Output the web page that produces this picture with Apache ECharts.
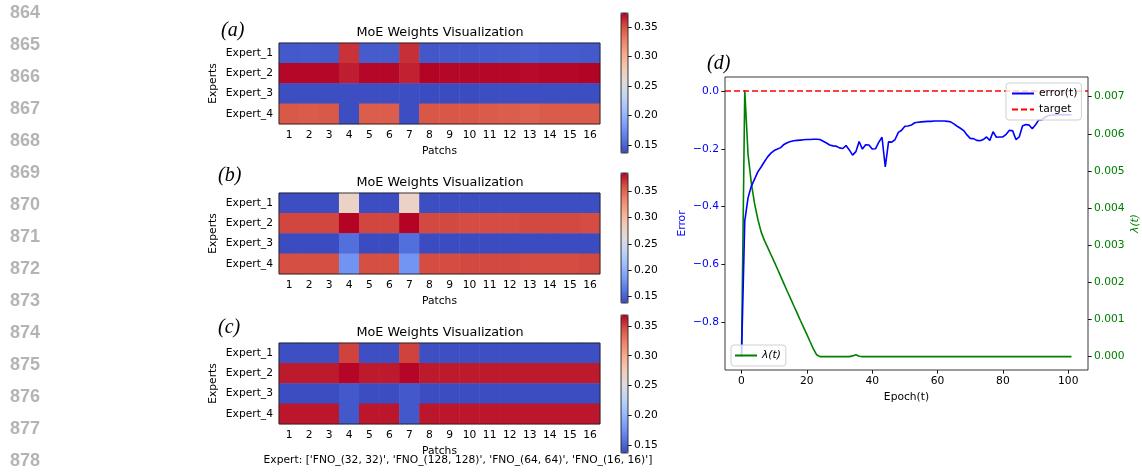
<!DOCTYPE html>
<html>
<head>
<meta charset="utf-8">
<script src="https://cdn.jsdelivr.net/npm/echarts@6.0.0/dist/echarts.min.js"></script>
<style>
  html, body { margin: 0; padding: 0; background: #fff; }
  #chart { width: 1142px; height: 473px; }
</style>
</head>
<body>
<div id="chart"></div>
<script>
// heatmap categories
const patches = ['1', '2', '3', '4', '5', '6', '7', '8', '9', '10', '11', '12', '13', '14', '15', '16'];
const experts = ['Expert_1', 'Expert_2', 'Expert_3', 'Expert_4'];

// (a) weights, one row per expert
const weightsA = [
  [0.143, 0.144, 0.143, 0.360, 0.145, 0.145, 0.361, 0.142, 0.143, 0.143, 0.144, 0.145, 0.146, 0.144, 0.144, 0.143],
  [0.373, 0.373, 0.373, 0.366, 0.373, 0.373, 0.365, 0.374, 0.373, 0.373, 0.373, 0.373, 0.372, 0.373, 0.373, 0.374],
  [0.137, 0.137, 0.137, 0.137, 0.137, 0.137, 0.137, 0.136, 0.136, 0.136, 0.137, 0.137, 0.137, 0.137, 0.137, 0.137],
  [0.347, 0.346, 0.347, 0.137, 0.345, 0.345, 0.137, 0.348, 0.348, 0.348, 0.346, 0.345, 0.343, 0.346, 0.346, 0.346]
];
// (b)
const weightsB = [
  [0.138, 0.138, 0.138, 0.276, 0.138, 0.138, 0.276, 0.138, 0.138, 0.138, 0.138, 0.138, 0.138, 0.138, 0.138, 0.138],
  [0.364, 0.364, 0.364, 0.385, 0.364, 0.364, 0.385, 0.363, 0.363, 0.362, 0.362, 0.362, 0.363, 0.363, 0.363, 0.362],
  [0.137, 0.137, 0.137, 0.157, 0.137, 0.137, 0.157, 0.137, 0.137, 0.137, 0.137, 0.137, 0.137, 0.137, 0.137, 0.137],
  [0.361, 0.361, 0.361, 0.179, 0.361, 0.361, 0.180, 0.362, 0.362, 0.363, 0.363, 0.363, 0.362, 0.362, 0.362, 0.363]
];
// (c)
const weightsC = [
  [0.138, 0.138, 0.138, 0.350, 0.138, 0.138, 0.350, 0.138, 0.138, 0.138, 0.138, 0.138, 0.138, 0.138, 0.138, 0.138],
  [0.362, 0.362, 0.362, 0.368, 0.362, 0.362, 0.368, 0.362, 0.362, 0.362, 0.362, 0.362, 0.362, 0.362, 0.362, 0.362],
  [0.137, 0.137, 0.137, 0.143, 0.137, 0.137, 0.143, 0.137, 0.137, 0.137, 0.137, 0.137, 0.137, 0.137, 0.137, 0.137],
  [0.363, 0.363, 0.363, 0.143, 0.363, 0.363, 0.143, 0.363, 0.363, 0.363, 0.363, 0.363, 0.363, 0.363, 0.363, 0.363]
];
// colorbar ranges
const rangeA = [0.136, 0.374];
const rangeB = [0.137, 0.385];
const rangeC = [0.1365, 0.3685];
const colorbarTicks = [0.15, 0.2, 0.25, 0.3, 0.35];

// (d) error / lambda per epoch (0..101)
const errorT = [
  -0.920, -0.450, -0.370, -0.330, -0.305, -0.280, -0.263, -0.245, -0.228, -0.215,
  -0.206, -0.201, -0.196, -0.185, -0.179, -0.175, -0.172, -0.171, -0.170, -0.169,
  -0.168, -0.168, -0.167, -0.167, -0.168, -0.174, -0.180, -0.187, -0.190, -0.191,
  -0.197, -0.199, -0.189, -0.204, -0.222, -0.210, -0.175, -0.201, -0.186, -0.187,
  -0.201, -0.200, -0.178, -0.160, -0.263, -0.176, -0.177, -0.168, -0.143, -0.136,
  -0.122, -0.121, -0.118, -0.110, -0.108, -0.107, -0.106, -0.105, -0.105, -0.104,
  -0.104, -0.104, -0.104, -0.105, -0.107, -0.114, -0.122, -0.129, -0.137, -0.152,
  -0.164, -0.165, -0.171, -0.172, -0.168, -0.159, -0.171, -0.141, -0.160, -0.159,
  -0.159, -0.150, -0.136, -0.138, -0.168, -0.159, -0.121, -0.116, -0.118, -0.131,
  -0.117, -0.100, -0.099, -0.090, -0.085, -0.084, -0.083, -0.082, -0.082, -0.082,
  -0.082, -0.082
];
const lambdaT = [
  0, 0.00717, 0.00545, 0.00468, 0.00412, 0.00370, 0.00336, 0.00313, 0.00294, 0.00275,
  0.00256, 0.00236, 0.00216, 0.00196, 0.00176, 0.00157, 0.00137, 0.00118, 0.00098, 0.00079,
  0.00060, 0.00040, 0.00021, 0.00005, 0, 0, 0, 0, 0, 0,
  0, 0, 0, 0, 0.00002, 0.00005, 0.00001, 0, 0, 0,
  0, 0, 0, 0, 0, 0, 0, 0, 0, 0,
  0, 0, 0, 0, 0, 0, 0, 0, 0, 0,
  0, 0, 0, 0, 0, 0, 0, 0, 0, 0,
  0, 0, 0, 0, 0, 0, 0, 0, 0, 0,
  0, 0, 0, 0, 0, 0, 0, 0, 0, 0,
  0, 0, 0, 0, 0, 0, 0, 0, 0, 0,
  0, 0
];
const targetValue = 0;
const epochTicks = [0, 20, 40, 60, 80, 100];
const errorTicks = [-0.8, -0.6, -0.4, -0.2, 0];
const lambdaTicks = [0, 0.001, 0.002, 0.003, 0.004, 0.005, 0.006, 0.007];
const lineNumbers = ['864', '865', '866', '867', '868', '869', '870', '871', '872', '873', '874', '875', '876', '877', '878'];

const coolwarm = ['#3b4cc0', '#5977e3', '#7b9ff9', '#9ebeff', '#c0d4f5', '#dddcdc',
  '#f2cbb7', '#f7ac8e', '#ee8468', '#d65244', '#b40426'];

const FS = 10.7;
const FONT = 'DejaVu Sans';

const heatTops = [43, 193, 343];
const barTops = [13, 173, 315];
const barHeights = [140, 130, 138];
const ranges = [rangeA, rangeB, rangeC];
const weights = [weightsA, weightsB, weightsC];

function toCells(w) {
  let cells = [];
  for (let r = 0; r < w.length; r++) {
    for (let c = 0; c < w[r].length; c++) {
      cells.push([c, r, w[r][c]]);
    }
  }
  return cells;
}

function txt(text, x, y, font, color, align) {
  return {
    type: 'text', x: x, y: y, silent: true, z: 100,
    style: {
      text: text, font: font, fill: color || '#000',
      align: align || 'center', verticalAlign: 'middle',
      textAlign: align || 'center', textVerticalAlign: 'middle'
    }
  };
}

let grid = [], xAxis = [], yAxis = [], series = [], visualMap = [], graphic = [];
const tick = { length: 3.7, lineStyle: { color: '#000', width: 0.9 } };
const noLine = { show: false, onZero: false };

for (let i = 0; i < 3; i++) {
  // heatmap grid
  grid.push({
    left: 279, top: heatTops[i], width: 321, height: 81,
    show: true, borderColor: '#222', borderWidth: 0.9, backgroundColor: 'transparent', z: 10,
    outerBoundsMode: 'none'
  });
  xAxis.push({
    type: 'category', gridIndex: i, data: patches,
    axisLine: noLine,
    axisTick: Object.assign({ alignWithLabel: true }, tick),
    axisLabel: { color: '#000', fontSize: FS, fontFamily: FONT, margin: 6, interval: 0 },
    splitLine: { show: false },
    name: 'Patchs', nameLocation: 'middle', nameGap: 22,
    nameTextStyle: { color: '#000', fontSize: FS, fontFamily: FONT }
  });
  yAxis.push({
    type: 'category', gridIndex: i, data: experts, inverse: true,
    axisLine: noLine,
    axisTick: Object.assign({ alignWithLabel: true }, tick),
    axisLabel: { color: '#000', fontSize: FS, fontFamily: FONT, margin: 6, interval: 0 },
    splitLine: { show: false },
    name: 'Experts', nameLocation: 'middle', nameGap: 60,
    nameTextStyle: { color: '#000', fontSize: FS, fontFamily: FONT }
  });
  series.push({
    type: 'heatmap', xAxisIndex: i, yAxisIndex: i,
    data: toCells(weights[i]),
    itemStyle: { borderWidth: 0 },
    emphasis: { disabled: true }
  });
  visualMap.push({
    type: 'continuous', seriesIndex: i, dimension: 2,
    min: ranges[i][0], max: ranges[i][1],
    inRange: { color: coolwarm },
    left: 621, top: barTops[i], itemWidth: 7, itemHeight: barHeights[i],
    padding: 0, calculable: false, hoverLink: false, text: null
  });
}

for (let i = 0; i < 3; i++) {
  // colorbar axes
  grid.push({
    left: 621, top: barTops[i], width: 7, height: barHeights[i],
    show: true, borderColor: '#222', borderWidth: 0.9, backgroundColor: 'transparent', z: 10,
    outerBoundsMode: 'none'
  });
  xAxis.push({ type: 'value', gridIndex: 3 + i, min: 0, max: 1, show: false, axisLine: noLine });
  yAxis.push({
    type: 'value', gridIndex: 3 + i, position: 'right',
    min: ranges[i][0], max: ranges[i][1],
    axisLine: noLine,
    axisTick: Object.assign({ customValues: colorbarTicks }, tick),
    axisLabel: {
      customValues: colorbarTicks, color: '#000', fontSize: FS, fontFamily: FONT, margin: 6,
      formatter: function (v) { return v.toFixed(2); }
    },
    splitLine: { show: false }
  });
}

// (d)
grid.push({
  left: 725, top: 77, width: 363, height: 293,
  show: true, borderColor: '#222', borderWidth: 0.9, backgroundColor: 'transparent', z: 10,
  outerBoundsMode: 'none'
});
xAxis.push({
  type: 'value', gridIndex: 6, min: -5.05, max: 106.05,
  axisLine: noLine,
  axisTick: Object.assign({ customValues: epochTicks }, tick),
  axisLabel: { customValues: epochTicks, color: '#000', fontSize: FS, fontFamily: FONT, margin: 6 },
  splitLine: { show: false },
  name: 'Epoch(t)', nameLocation: 'middle', nameGap: 21,
  nameTextStyle: { color: '#000', fontSize: FS, fontFamily: FONT }
});
yAxis.push({
  type: 'value', gridIndex: 6, position: 'left', min: -0.966, max: 0.0485,
  axisLine: noLine,
  axisTick: Object.assign({ customValues: errorTicks }, tick),
  axisLabel: {
    customValues: errorTicks, color: '#0000ff', fontSize: FS, fontFamily: FONT, margin: 6,
    formatter: function (v) { return v < 0 ? '\u2212' + Math.abs(v).toFixed(1) : '0.0'; }
  },
  splitLine: { show: false },
  name: 'Error', nameLocation: 'middle', nameGap: 37,
  nameTextStyle: { color: '#0000ff', fontSize: FS, fontFamily: FONT }
});
yAxis.push({
  type: 'value', gridIndex: 6, position: 'right', min: -0.00036, max: 0.00753,
  axisLine: noLine,
  axisTick: Object.assign({ customValues: lambdaTicks }, tick),
  axisLabel: {
    customValues: lambdaTicks, color: '#008000', fontSize: FS, fontFamily: FONT, margin: 6,
    formatter: function (v) { return v.toFixed(3); }
  },
  splitLine: { show: false },
  name: 'λ(t)', nameLocation: 'middle', nameGap: 42, nameRotate: 90,
  nameTextStyle: { color: '#008000', fontSize: FS, fontFamily: FONT, fontStyle: 'italic' }
});

series.push({
  name: 'error(t)', type: 'line', xAxisIndex: 6, yAxisIndex: 6,
  data: errorT.map(function (v, i) { return [i, v]; }),
  symbol: 'none', color: '#0000ff',
  lineStyle: { color: '#0000ff', width: 1.6 },
  emphasis: { disabled: true }, z: 3
});
series.push({
  name: 'target', type: 'line', xAxisIndex: 6, yAxisIndex: 6,
  data: [], symbol: 'none', color: '#ff0000',
  lineStyle: { color: '#ff0000', width: 1.6, type: [6, 3] },
  markLine: {
    silent: true, symbol: 'none', label: { show: false },
    lineStyle: { color: '#ff0000', width: 1.6, type: [6, 3] },
    data: [{ yAxis: targetValue }]
  }
});
series.push({
  name: 'λ(t)', type: 'line', xAxisIndex: 6, yAxisIndex: 7,
  data: lambdaT.map(function (v, i) { return [i, v]; }),
  symbol: 'none', color: '#008000',
  lineStyle: { color: '#008000', width: 1.6 },
  emphasis: { disabled: true }, z: 2
});

const titleFont = '12.8px "DejaVu Sans"';
for (let i = 0; i < 3; i++) {
  graphic.push(txt('MoE Weights Visualization', 440, heatTops[i] - 10, titleFont, '#000'));
}
graphic.push(txt('(a)', 221, 31, 'italic 20px "Liberation Serif"', '#000', 'left'));
graphic.push(txt('(b)', 218, 176, 'italic 20px "Liberation Serif"', '#000', 'left'));
graphic.push(txt('(c)', 218, 328, 'italic 20px "Liberation Serif"', '#000', 'left'));
graphic.push(txt('(d)', 707, 64, 'italic 20px "Liberation Serif"', '#000', 'left'));
graphic.push(txt("Expert: ['FNO_(32, 32)', 'FNO_(128, 128)', 'FNO_(64, 64)', 'FNO_(16, 16)']",
  458, 460, FS + 'px "DejaVu Sans"', '#000'));
for (let i = 0; i < lineNumbers.length; i++) {
  graphic.push(txt(lineNumbers[i], 10, 13 + i * 32, 'bold 18px "Liberation Sans"', '#b4b4b4', 'left'));
}

const legendBox = {
  orient: 'vertical', itemWidth: 22, itemHeight: 10, selectedMode: false, z: 20,
  backgroundColor: 'rgba(255,255,255,0.8)', borderColor: '#d0d0d0', borderWidth: 1, borderRadius: 3,
  itemStyle: { opacity: 0 }
};

const chart = echarts.init(document.getElementById('chart'), null, { renderer: 'canvas' });
chart.setOption({
  animation: false,
  backgroundColor: '#fff',
  textStyle: { fontFamily: FONT },
  grid: grid,
  xAxis: xAxis,
  yAxis: yAxis,
  visualMap: visualMap,
  legend: [
    Object.assign({}, legendBox, {
      data: ['error(t)', 'target'],
      left: 1006, top: 83, padding: [5, 4, 5, 5], itemGap: 5,
      textStyle: { color: '#000', fontSize: FS, fontFamily: FONT }
    }),
    Object.assign({}, legendBox, {
      data: ['λ(t)'],
      left: 731, top: 345, padding: [5, 5, 5, 3],
      textStyle: { color: '#000', fontSize: FS, fontFamily: FONT, fontStyle: 'italic' }
    })
  ],
  series: series,
  graphic: graphic
});
</script>
</body>
</html>
